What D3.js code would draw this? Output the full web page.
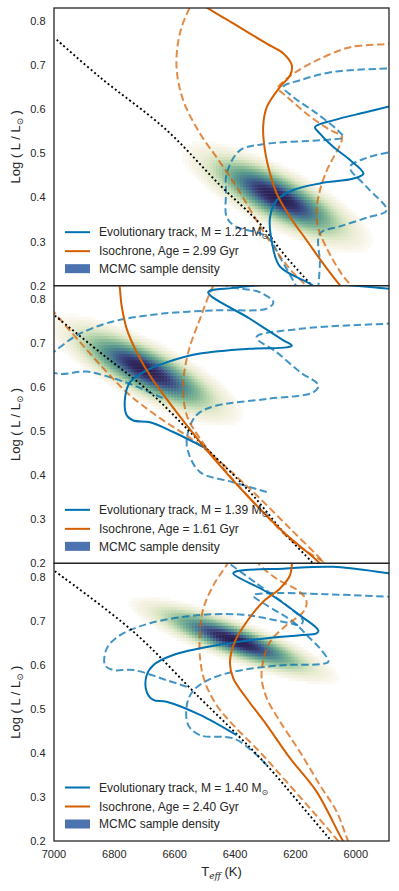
<!DOCTYPE html>
<html>
<head>
<meta charset="utf-8">
<script src="https://cdn.jsdelivr.net/npm/d3@7/dist/d3.min.js"></script>
<style>
  html, body { margin: 0; padding: 0; background: #ffffff; }
  svg { display: block; }
  text { font-family: "Liberation Sans", Arial, "DejaVu Sans", sans-serif; fill: #262626; }
</style>
</head>
<body>
<svg id="chart" width="399" height="891"></svg>
<script>
// ---------------- DATA ----------------
const xTicks = [7000, 6800, 6600, 6400, 6200, 6000];
const yTicks = [0.2, 0.3, 0.4, 0.5, 0.6, 0.7, 0.8];
const massLabels = ["1.21", "1.39", "1.40"];
const ageLabels = ["2.99", "1.61", "2.40"];

// MCMC sample density summary: centre, spread, correlation
const densityCenterT = [6261, 6695, 6405];
const densityCenterL = [0.401, 0.638, 0.656];
const densitySigmaT = [95, 97, 105];
const densitySigmaL = [0.038, 0.038, 0.030];
const densityRho = [0.78, 0.79, 0.85];

// Panel 1  [Teff, logL]
const zams1 = [[6991,0.758],[6848,0.673],[6627,0.553],[6450,0.428],[6318,0.341],[6240,0.273],[6152,0.205],[6130,0.19]];
const track1 = [[6120,0.18],[6142,0.20],[6251,0.243],[6279,0.303],[6284,0.356],[6262,0.394],[6207,0.417],[6119,0.432],[6008,0.443],[5975,0.454],[6019,0.485],[6075,0.515],[6119,0.545],[6135,0.560],[6075,0.575],[5964,0.594],[5870,0.61]];
const trackHi1 = [[6190,0.19],[6246,0.258],[6295,0.311],[6400,0.335],[6428,0.356],[6430,0.41],[6428,0.454],[6384,0.507],[6295,0.522],[6119,0.530],[6042,0.537],[6059,0.552],[6130,0.591],[6207,0.628],[6240,0.651],[6185,0.666],[6075,0.685],[5887,0.693],[5860,0.694]];
const trackLo1 = [[6125,0.19],[6119,0.25],[6119,0.318],[6050,0.335],[5960,0.355],[5898,0.371],[5964,0.424],[6019,0.469],[5964,0.49],[5887,0.503],[5860,0.507]];
const iso1 = [[6520,0.845],[6489,0.829],[6406,0.795],[6295,0.749],[6240,0.727],[6212,0.70],[6218,0.677],[6251,0.651],[6295,0.605],[6307,0.56],[6301,0.507],[6284,0.454],[6262,0.409],[6218,0.356],[6163,0.303],[6108,0.25],[6053,0.201],[6040,0.19]];
const isoLeft1 = [[6530,0.85],[6549,0.832],[6583,0.772],[6594,0.696],[6572,0.621],[6516,0.545],[6455,0.485],[6395,0.424],[6335,0.355],[6275,0.29],[6215,0.235],[6165,0.2],[6155,0.19]];
const isoRight1 = [[5870,0.752],[5887,0.749],[6019,0.741],[6130,0.711],[6207,0.681],[6245,0.660],[6258,0.648],[6230,0.63],[6163,0.59],[6090,0.555],[6046,0.538],[6052,0.52],[6075,0.49],[6097,0.46],[6119,0.416],[6130,0.371],[6124,0.33],[6085,0.27],[6040,0.22],[6015,0.2],[6005,0.19]];

// Panel 2
const zams2 = [[6997,0.762],[6848,0.679],[6682,0.588],[6516,0.475],[6351,0.362],[6240,0.271],[6146,0.203],[6130,0.19]];
const track2 = [[6494,0.460],[6605,0.498],[6682,0.520],[6737,0.524],[6759,0.536],[6765,0.573],[6748,0.611],[6704,0.634],[6627,0.656],[6516,0.676],[6351,0.687],[6229,0.690],[6212,0.694],[6240,0.706],[6351,0.755],[6489,0.815],[6406,0.825],[6250,0.834],[6050,0.832],[5887,0.823],[5860,0.822]];
const trackHi2 = [[6640,0.575],[6737,0.604],[6814,0.622],[6892,0.635],[6980,0.630],[7030,0.640],[7040,0.66],[7000,0.68],[6925,0.717],[6814,0.747],[6649,0.766],[6461,0.774],[6295,0.778],[6273,0.792],[6318,0.815],[6406,0.826],[6450,0.835]];
const trackLo2 = [[6295,0.362],[6406,0.384],[6516,0.407],[6555,0.452],[6560,0.483],[6540,0.525],[6516,0.543],[6461,0.558],[6295,0.573],[6141,0.588],[6124,0.604],[6185,0.634],[6262,0.679],[6329,0.713],[6185,0.732],[5887,0.744],[5860,0.745]];
const iso2 = [[6790,0.85],[6783,0.83],[6776,0.785],[6759,0.732],[6726,0.679],[6682,0.626],[6627,0.573],[6560,0.513],[6461,0.430],[6351,0.347],[6240,0.271],[6124,0.203],[6110,0.19]];
const isoLeft2 = [[7010,0.778],[6914,0.702],[6825,0.634],[6748,0.581],[6650,0.53],[6516,0.468],[6351,0.369],[6218,0.279],[6108,0.203],[6095,0.19]];
const isoRight2 = [[6450,0.85],[6472,0.83],[6516,0.755],[6555,0.679],[6572,0.604],[6560,0.536],[6516,0.483],[6428,0.407],[6318,0.324],[6207,0.248],[6102,0.2],[6090,0.19]];

// Panel 3
const zams3 = [[6997,0.812],[6737,0.675],[6516,0.524],[6391,0.44],[6295,0.372],[6080,0.2],[6065,0.19]];
const track3 = [[6395,0.440],[6516,0.486],[6627,0.516],[6671,0.520],[6693,0.539],[6693,0.576],[6671,0.599],[6605,0.622],[6461,0.644],[6295,0.660],[6185,0.667],[6130,0.671],[6124,0.678],[6185,0.712],[6295,0.765],[6406,0.807],[6395,0.812],[6240,0.818],[6075,0.822],[5887,0.807],[5860,0.805]];
const trackHi3 = [[6560,0.55],[6627,0.565],[6737,0.588],[6804,0.588],[6831,0.599],[6825,0.637],[6781,0.667],[6682,0.694],[6527,0.712],[6384,0.714],[6295,0.705],[6218,0.694],[6185,0.690],[6175,0.70],[6230,0.735],[6330,0.785],[6420,0.83],[6440,0.84]];
const trackLo3 = [[6295,0.372],[6340,0.402],[6406,0.433],[6516,0.440],[6555,0.463],[6560,0.508],[6540,0.54],[6490,0.565],[6406,0.584],[6240,0.599],[6119,0.601],[6091,0.607],[6119,0.637],[6152,0.66],[6207,0.697],[6295,0.735],[6340,0.757],[6300,0.762],[6100,0.760],[5887,0.754],[5860,0.753]];
const iso3 = [[6210,0.85],[6212,0.826],[6218,0.803],[6251,0.773],[6307,0.743],[6362,0.697],[6401,0.652],[6417,0.607],[6406,0.569],[6362,0.524],[6295,0.463],[6218,0.388],[6130,0.312],[6042,0.2],[6030,0.19]];
const isoLeft3 = [[6420,0.835],[6428,0.826],[6472,0.780],[6505,0.728],[6516,0.675],[6516,0.614],[6500,0.561],[6461,0.508],[6406,0.463],[6318,0.402],[6229,0.334],[6141,0.266],[6058,0.2],[6045,0.19]];
const isoRight3 = [[6330,0.84],[6318,0.826],[6262,0.795],[6185,0.765],[6163,0.743],[6174,0.720],[6229,0.690],[6284,0.652],[6307,0.607],[6312,0.569],[6295,0.524],[6251,0.471],[6185,0.402],[6119,0.327],[6063,0.266],[6025,0.2],[6015,0.19]];

const zamsAll = [zams1, zams2, zams3];
const trackAll = [track1, track2, track3];
const trackHiAll = [trackHi1, trackHi2, trackHi3];
const trackLoAll = [trackLo1, trackLo2, trackLo3];
const isoAll = [iso1, iso2, iso3];
const isoLeftAll = [isoLeft1, isoLeft2, isoLeft3];
const isoRightAll = [isoRight1, isoRight2, isoRight3];

// ---------------- LAYOUT ----------------
const mLeft = 54, mRight = 389, mTop = 8, panelH = 277.67;
const blue = "#0072B2", orange = "#D55E00", ink = "#262626";

const svg = d3.select("#chart");
const x = d3.scaleLinear().domain([7000, 5890]).range([mLeft, mRight]);

const cmapStops = [0, 0.012, 0.04, 0.1, 0.2, 0.34, 0.5, 0.66, 0.82, 1.0];
const cmapColors = ["#ffffff", "#f5f2e3", "#e4eacc", "#bcd7af", "#86b994", "#5b9a8f", "#47788f", "#3c5087", "#312f66", "#2a1d4f"];
const cmap = d3.scaleLinear().domain(cmapStops).range(cmapColors).interpolate(d3.interpolateRgb).clamp(true);

const defs = svg.append("defs");

for (let p = 0; p < 3; p++) {
  const pTop = mTop + p * panelH;
  const pBot = pTop + panelH;
  const y = d3.scaleLinear().domain([0.2, 0.83]).range([pBot, pTop]);

  defs.append("clipPath").attr("id", "clip" + p)
    .append("rect").attr("x", mLeft).attr("y", pTop).attr("width", mRight - mLeft).attr("height", panelH);

  const g = svg.append("g").attr("clip-path", "url(#clip" + p + ")");

  // density (2D histogram-like cells)
  const T0 = densityCenterT[p], L0 = densityCenterL[p];
  const sT = densitySigmaT[p], sL = densitySigmaL[p], rho = densityRho[p];
  const dT = 10, dL = 0.007;
  const cells = [];
  for (let T = Math.floor((T0 - 4.5 * sT) / dT) * dT; T <= T0 + 4.5 * sT; T += dT) {
    for (let L = Math.floor((L0 - 4.5 * sL) / dL) * dL; L <= L0 + 4.5 * sL; L += dL) {
      const zT = (T - T0) / sT, zL = (L - L0) / sL;
      const q = (zT * zT - 2 * rho * zT * zL + zL * zL) / (1 - rho * rho);
      const v = Math.exp(-0.5 * q);
      if (v > 0.004) cells.push({T, L, v});
    }
  }
  g.append("g").selectAll("rect").data(cells).join("rect")
    .attr("x", d => x(d.T + dT / 2))
    .attr("y", d => y(d.L + dL / 2))
    .attr("width", d => Math.abs(x(d.T - dT / 2) - x(d.T + dT / 2)) + 0.4)
    .attr("height", d => Math.abs(y(d.L - dL / 2) - y(d.L + dL / 2)) + 0.4)
    .attr("fill", d => cmap(d.v));

  const line = d3.line().x(d => x(d[0])).y(d => y(d[1])).curve(d3.curveCatmullRom.alpha(0.5));

  // dashed tracks / isochrones
  [trackHiAll[p], trackLoAll[p]].forEach(arr => {
    g.append("path").attr("d", line(arr)).attr("fill", "none")
      .attr("stroke", blue).attr("stroke-opacity", 0.75).attr("stroke-width", 2)
      .attr("stroke-dasharray", "7.4,3.6");
  });
  [isoLeftAll[p], isoRightAll[p]].forEach(arr => {
    g.append("path").attr("d", line(arr)).attr("fill", "none")
      .attr("stroke", orange).attr("stroke-opacity", 0.72).attr("stroke-width", 2)
      .attr("stroke-dasharray", "7.4,3.6");
  });

  // ZAMS dotted
  g.append("path").attr("d", line(zamsAll[p])).attr("fill", "none")
    .attr("stroke", "#000").attr("stroke-width", 1.9).attr("stroke-dasharray", "1.9,2.6");

  // solid lines
  g.append("path").attr("d", line(trackAll[p])).attr("fill", "none")
    .attr("stroke", blue).attr("stroke-width", 2);
  g.append("path").attr("d", line(isoAll[p])).attr("fill", "none")
    .attr("stroke", orange).attr("stroke-width", 2);

  // frame
  svg.append("rect").attr("x", mLeft).attr("y", pTop).attr("width", mRight - mLeft).attr("height", panelH)
    .attr("fill", "none").attr("stroke", ink).attr("stroke-width", 1.3);

  // y tick labels
  svg.append("g").selectAll("text").data(yTicks).join("text")
    .attr("x", 45.5).attr("y", d => y(d)).attr("dy", "0.36em")
    .attr("text-anchor", "end").attr("font-size", 11).text(d => d.toFixed(1));

  // y label
  const yl = svg.append("text")
    .attr("transform", `translate(19.5,${(pTop + pBot) / 2}) rotate(-90)`)
    .attr("text-anchor", "middle").attr("font-size", 13);
  yl.append("tspan").text("Log ( L / L");
  yl.append("tspan").attr("font-size", 8.5).attr("dy", 3).attr("font-family", "DejaVu Sans").text("⊙");
  yl.append("tspan").attr("dy", -3).text(" )");

  // legend
  const rows = [pBot - 53.5, pBot - 34.5, pBot - 17];
  const lg = svg.append("g");
  lg.append("line").attr("x1", 65).attr("x2", 90).attr("y1", rows[0]).attr("y2", rows[0])
    .attr("stroke", blue).attr("stroke-width", 2);
  const t1 = lg.append("text").attr("x", 99).attr("y", rows[0]).attr("dy", "0.36em").attr("font-size", 12);
  t1.append("tspan").text("Evolutionary track, M = " + massLabels[p] + " M");
  t1.append("tspan").attr("font-size", 8).attr("dy", 3).attr("font-family", "DejaVu Sans").text("⊙");
  lg.append("line").attr("x1", 65).attr("x2", 90).attr("y1", rows[1]).attr("y2", rows[1])
    .attr("stroke", orange).attr("stroke-width", 2);
  lg.append("text").attr("x", 99).attr("y", rows[1]).attr("dy", "0.36em").attr("font-size", 12)
    .text("Isochrone, Age = " + ageLabels[p] + " Gyr");
  lg.append("rect").attr("x", 65).attr("y", rows[2] - 4.5).attr("width", 25).attr("height", 9)
    .attr("fill", "#4C72B0");
  lg.append("text").attr("x", 99).attr("y", rows[2]).attr("dy", "0.36em").attr("font-size", 12)
    .text("MCMC sample density");

  if (p === 2) {
    svg.append("g").selectAll("text").data(xTicks).join("text")
      .attr("x", d => x(d)).attr("y", pBot + 17).attr("text-anchor", "middle")
      .attr("font-size", 11).text(d => d);
    const xl = svg.append("text").attr("x", (mLeft + mRight) / 2).attr("y", 876)
      .attr("text-anchor", "middle").attr("font-size", 13);
    xl.append("tspan").text("T");
    xl.append("tspan").attr("font-size", 9).attr("dy", 2.5).attr("font-style", "italic")
      .attr("font-family", "DejaVu Serif").text("eff");
    xl.append("tspan").attr("dy", -2.5).text(" (K)");
  }
}
</script>
</body>
</html>
